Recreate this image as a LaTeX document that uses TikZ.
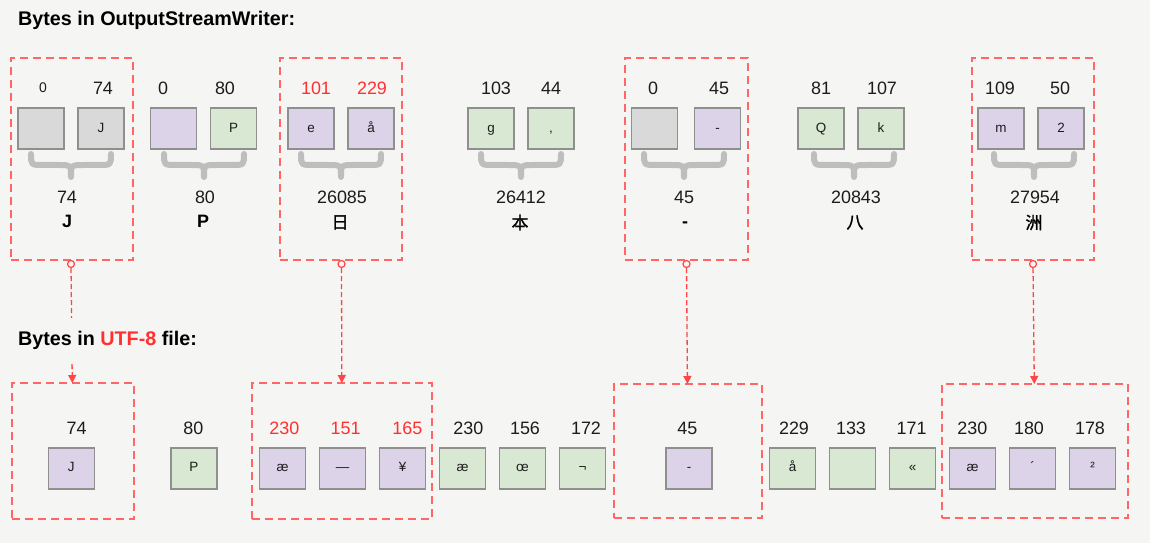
\documentclass[tikz,border=0pt]{standalone}
\usepackage{fontspec}
\setmainfont{Liberation Sans}
\newfontfamily\cjkbold[FakeBold=1.5]{Noto Sans CJK SC}
\usetikzlibrary{arrows.meta}
\definecolor{bg}{HTML}{F5F5F3}
\definecolor{boxgray}{HTML}{D9D9D9}
\definecolor{boxline}{HTML}{8F8F8F}
\definecolor{lav}{HTML}{DCD3E8}
\definecolor{grn}{HTML}{D8E8D3}
\definecolor{grpred}{HTML}{FF6666}
\definecolor{conred}{HTML}{FF4545}
\definecolor{numred}{HTML}{FF3030}
\definecolor{brc}{HTML}{BEBEBE}
\definecolor{txt}{HTML}{1C1C1C}
\newcommand{\bytebrace}[1]{\draw[bracestyle] ({#1-40},154) .. controls ({#1-40},165) .. ({#1-28},165) -- ({#1-13},165) .. controls ({#1},165) .. ({#1},177) .. controls ({#1},165) .. ({#1+13},165) -- ({#1+28},165) .. controls ({#1+40},165) .. ({#1+40},154);}
\begin{document}
\begin{tikzpicture}[x=1bp,y=-1bp,
  byte/.style={draw=boxline, line width=1.6bp, minimum width=46bp, minimum height=41bp, inner sep=0pt, outer sep=0pt, font=\fontsize{13.5}{14}\selectfont, text=txt, text height=0.716em, text depth=0pt},
  gb/.style={byte, fill=boxgray},
  lb/.style={byte, fill=lav},
  nb/.style={byte, fill=grn},
  num/.style={inner sep=0pt, font=\fontsize{18}{18}\selectfont, text=txt},
  rnum/.style={num, text=numred},
  chr/.style={inner sep=0pt, font=\fontsize{18}{18}\selectfont\bfseries, text=black, text height=0.716em, text depth=0pt},
  cjk/.style={inner sep=0pt, font=\fontsize{17}{17}\selectfont\cjkbold, text=black},
  grp/.style={draw=grpred, line width=2bp, dash pattern=on 8bp off 5bp, inner sep=0pt, outer sep=0pt, anchor=north west},
  conn/.style={draw=conred, line width=1.3bp, dash pattern=on 5bp off 3bp, -{Triangle[length=8bp,width=8bp]}},
  startdot/.style={circle, draw=conred, fill=bg, line width=1.2bp, minimum size=7bp, inner sep=0pt},
  bracestyle/.style={draw=brc, line width=6bp, line cap=round, line join=round},
  title/.style={anchor=west, inner sep=0pt, font=\fontsize{19.8}{20}\selectfont\bfseries, text=black}
]
\useasboundingbox[fill=bg] (0,0) rectangle (1150,543);

% ---------- top title ----------
\node[title] (t0) at (18,20) {Bytes in OutputStreamWriter:};

% ---------- top group frames ----------
\node[grp, minimum width=122bp, minimum height=202bp] (g1) at (11,58) {};
\node[grp, minimum width=122bp, minimum height=202bp] (g3) at (280,58) {};
\node[grp, minimum width=123bp, minimum height=202bp] (g5) at (625,58) {};
\node[grp, minimum width=122bp, minimum height=202bp] (g7) at (972,58) {};

% ---------- top bytes ----------
% group 1
\node[num, font=\fontsize{14}{14}\selectfont] (n1a) at (43,88) {0};
\node[num] (n1b) at (103,88) {74};
\node[gb] (b1a) at (41,128.5) {};
\node[gb] (b1b) at (101,128.5) {J};
% group 2
\node[num] (n2a) at (163,88) {0};
\node[num] (n2b) at (225,88) {80};
\node[lb] (b2a) at (173.5,128.5) {};
\node[nb] (b2b) at (233.5,128.5) {P};
% group 3
\node[rnum] (n3a) at (316,88) {101};
\node[rnum] (n3b) at (372,88) {229};
\node[lb] (b3a) at (311,128.5) {e};
\node[lb] (b3b) at (371,128.5) {å};
% group 4
\node[num] (n4a) at (496,88) {103};
\node[num] (n4b) at (551,88) {44};
\node[nb] (b4a) at (491,128.5) {g};
\node[nb] (b4b) at (551,128.5) {,};
% group 5
\node[num] (n5a) at (653,88) {0};
\node[num] (n5b) at (719,88) {45};
\node[gb] (b5a) at (654.3,128.5) {};
\node[lb] (b5b) at (717.5,128.5) {-};
% group 6
\node[num] (n6a) at (821,88) {81};
\node[num] (n6b) at (882,88) {107};
\node[nb] (b6a) at (821,128.5) {Q};
\node[nb] (b6b) at (881,128.5) {k};
% group 7
\node[num] (n7a) at (1000,88) {109};
\node[num] (n7b) at (1060,88) {50};
\node[lb] (b7a) at (1001,128.5) {m};
\node[lb] (b7b) at (1061,128.5) {2};

% ---------- braces ----------
\bytebrace{71}
\bytebrace{204}
\bytebrace{341}
\bytebrace{521}
\bytebrace{684}
\bytebrace{854}
\bytebrace{1034}

% ---------- code points and characters ----------
\node[num] (v1) at (67,197) {74};
\node[chr] (c1) at (67,223.5) {J};
\node[num] (v2) at (205,197) {80};
\node[chr] (c2) at (203,223.5) {P};
\node[num] (v3) at (342,197) {26085};
\node[cjk] (c3) at (340,222.5) {日};
\node[num] (v4) at (521,197) {26412};
\node[cjk] (c4) at (520,222.5) {本};
\node[num] (v5) at (684,197) {45};
\node[chr] (c5) at (685,223.5) {-};
\node[num] (v6) at (856,197) {20843};
\node[cjk] (c6) at (855,222.5) {八};
\node[num] (v7) at (1035,197) {27954};
\node[cjk] (c7) at (1034,222.5) {洲};

% ---------- bottom group frames ----------
\node[grp, minimum width=122bp, minimum height=136bp] (h1) at (12,383) {};
\node[grp, minimum width=180bp, minimum height=136bp] (h2) at (252,383) {};
\node[grp, minimum width=148bp, minimum height=134bp] (h3) at (614,384) {};
\node[grp, minimum width=186bp, minimum height=134bp] (h4) at (942,384) {};

% ---------- connectors ----------
\node[startdot] (s1) at (71,264) {};
\node[startdot] (s3) at (341.5,264) {};
\node[startdot] (s5) at (686.5,264) {};
\node[startdot] (s7) at (1033,264) {};
\draw[conn] (s1) -- (h1);
\draw[conn] (s3) -- (h2);
\draw[conn] (s5) -- (h3);
\draw[conn] (s7) -- (h4);

% ---------- bottom title (hides the connector behind it) ----------
\node[title, fill=bg, minimum height=44bp] (t1) at (18,340) {Bytes in \textcolor{numred}{UTF-8} file:};

% ---------- bottom bytes ----------
\node[num] (m1) at (76.7,428) {74};
\node[lb] (d1) at (71.3,468.4) {J};
\node[num] (m2) at (193.3,428) {80};
\node[nb] (d2) at (193.8,468.4) {P};
\node[rnum] (m3) at (284.3,428) {230};
\node[lb] (d3) at (282.5,468.4) {æ};
\node[rnum] (m4) at (345.7,428) {151};
\node[lb] (d4) at (342.5,468.4) {—};
\node[rnum] (m5) at (407.3,428) {165};
\node[lb] (d5) at (402.5,468.4) {¥};
\node[num] (m6) at (468.3,428) {230};
\node[nb] (d6) at (462.5,468.4) {æ};
\node[num] (m7) at (525,428) {156};
\node[nb] (d7) at (522.5,468.4) {œ};
\node[num] (m8) at (586,428) {172};
\node[nb] (d8) at (582.5,468.4) {¬};
\node[num] (m9) at (687.3,428) {45};
\node[lb] (d9) at (689,468.4) {-};
\node[num] (m10) at (794,428) {229};
\node[nb] (d10) at (792.5,468.4) {å};
\node[num] (m11) at (851,428) {133};
\node[nb] (d11) at (852.5,468.4) {};
\node[num] (m12) at (911.7,428) {171};
\node[nb] (d12) at (912.5,468.4) {«};
\node[num] (m13) at (972.3,428) {230};
\node[lb] (d13) at (972.5,468.4) {æ};
\node[num] (m14) at (1029,428) {180};
\node[lb] (d14) at (1032.5,468.4) {´};
\node[num] (m15) at (1090,428) {178};
\node[lb] (d15) at (1092.5,468.4) {²};
\end{tikzpicture}
\end{document}
